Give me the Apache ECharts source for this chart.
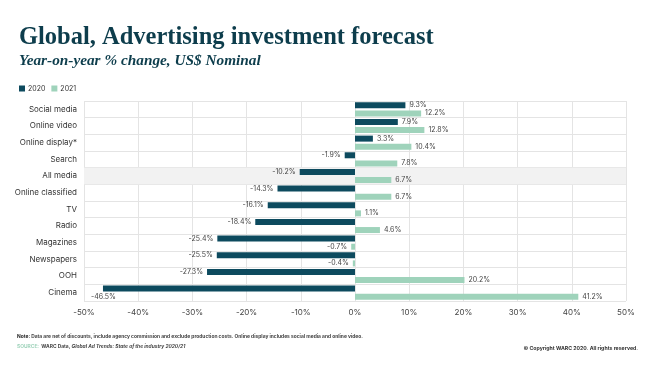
<!DOCTYPE html>
<html><head><meta charset="utf-8">
<script src="https://cdn.jsdelivr.net/npm/echarts@6/dist/echarts.min.js"></script>
<style>html,body{margin:0;padding:0;background:#fff}#c{width:658px;height:368px}</style>
</head><body><div id="c"></div>
<script>
const categories = ['Social media','Online video','Online display*','Search','All media','Online classified','TV','Radio','Magazines','Newspapers','OOH','Cinema'];
const values2020 = [9.3,7.9,3.3,-1.9,-10.2,-14.3,-16.1,-18.4,-25.4,-25.5,-27.3,-46.5];
const values2021 = [12.2,12.8,10.4,7.8,6.7,6.7,1.1,4.6,-0.7,-0.4,20.2,41.2];
const seriesNames = ['2020','2021'];
const highlightRow = 'All media';
const xMin = -50, xMax = 50, xStep = 10;

const C2020 = '#0d4a5e', C2021 = '#9fd3bb', INK = '#0d3d4c';
const lbl = {show:true, fontSize:7, color:'#444', fontFamily:'Inter', formatter: p => p.value + '%'};
function items(vals){
  return vals.map(v => ({value: v, label: {position: v < 0 ? 'left' : 'right', distance: 4}}));
}
const chart = echarts.init(document.getElementById('c'));
chart.setOption({
  animation:false,
  textStyle:{fontFamily:'Inter'},
  title:[
    {text:'Global, Advertising investment forecast', left:14, top:20,
     textStyle:{fontFamily:'Liberation Serif', fontWeight:'bold', fontSize:24.5, color:INK}},
    {text:'Year-on-year % change, US$ Nominal', left:14, top:49,
     textStyle:{fontFamily:'Liberation Serif', fontStyle:'italic', fontSize:15.3, color:INK}},
    {text:'{b|Note:} Data are net of discounts, include agency commission and exclude production costs. Online display includes social media and online video.\n{s|SOURCE:}  WARC Data, {i|Global Ad Trends: State of the industry 2020/21}',
     left:12, top:327,
     textStyle:{fontFamily:'Inter', fontSize:4.9, color:'#444', lineHeight:9.5,
       rich:{b:{fontWeight:'bold', fontSize:4.9, color:'#222'}, s:{color:'#9fd3bb', fontSize:4.9}, i:{fontStyle:'italic', fontSize:4.9, color:'#444'}}}},
    {text:'© Copyright WARC 2020. All rights reserved.', right:15, top:341,
     textStyle:{fontFamily:'Inter', fontSize:5.2, fontWeight:'bold', color:'#333'}}
  ],
  legend:{data:seriesNames, left:14, top:80, itemWidth:6, itemHeight:6, itemGap:6, icon:'rect',
    textStyle:{fontSize:7, color:'#333', padding:[0,0,0,-2]}},
  grid:{left:84, right:32, top:101, bottom:67},
  xAxis:[
    {type:'value', min:xMin, max:xMax, interval:xStep,
     axisLabel:{formatter:'{value}%', fontSize:8, color:'#444', margin:8},
     splitLine:{lineStyle:{color:'#e4e4e4'}}, axisLine:{show:false}, axisTick:{show:false}},
    {type:'value', min:0, max:1, show:false}
  ],
  yAxis:[
    {type:'category', data:categories, inverse:true,
     axisLabel:{fontSize:8, color:'#333', margin:7},
     axisLine:{show:false}, axisTick:{show:false},
     splitLine:{show:true, lineStyle:{color:'#e4e4e4'}}},
    {type:'category', data:categories, inverse:true, show:false}
  ],
  series:[
    {type:'bar', name:'bg', xAxisIndex:1, yAxisIndex:1, barWidth:'100%', silent:true, z:0,
     itemStyle:{color:'#f2f2f2'},
     data: categories.map(c => c === highlightRow ? 1 : null)},
    {type:'bar', name:seriesNames[0], barWidth:6, barGap:'35%', itemStyle:{color:C2020}, z:3,
     label:lbl, data: items(values2020),
     labelLayout: p => (p.rect.x < 110 ? {dx: 17, dy: 8} : {})},
    {type:'bar', name:seriesNames[1], barWidth:6, itemStyle:{color:C2021}, z:3,
     label:lbl, data: items(values2021)}
  ]
});
</script></body></html>
